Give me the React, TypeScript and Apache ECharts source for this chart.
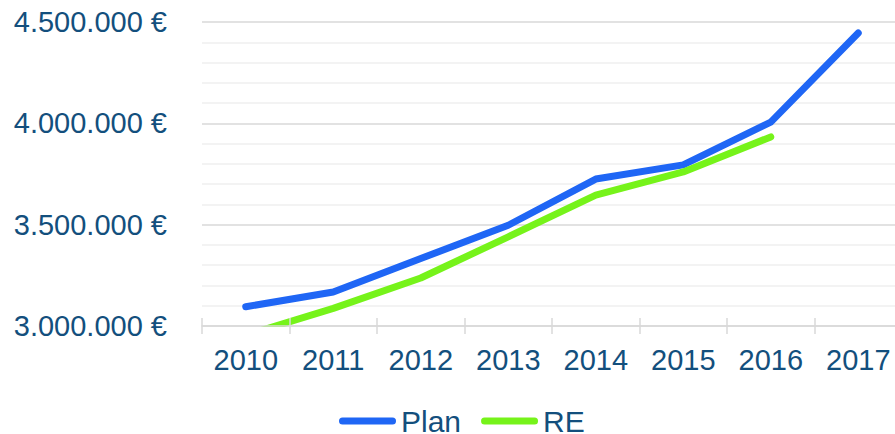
import React, { useEffect, useRef } from "react";
import * as echarts from "echarts";

const years = ["2010", "2011", "2012", "2013", "2014", "2015", "2016", "2017"];
const planValues = [3095000, 3168000, 3333000, 3497000, 3725000, 3795000, 4006000, 4446000];
const reValues = [2955000, 3087000, 3237000, 3440000, 3646000, 3760000, 3933000, null];
const yTicks = { min: 3000000, max: 4500000, interval: 500000 };

const TEXT = "#134f7d";
const FONT = "'Liberation Sans', Arial, sans-serif";
const BLUE = "#1f66f5";
const GREEN = "#76f31a";

const fmt = (v: number) =>
  String(Math.round(v)).replace(/\B(?=(\d{3})+(?!\d))/g, ".") + " €";

const capsule = "path://M3.5,0 H53.5 A3.5,3.5 0 0 1 53.5,7 H3.5 A3.5,3.5 0 0 1 3.5,0 Z";

export default function App() {
  const ref = useRef<HTMLDivElement>(null);
  useEffect(() => {
    if (!ref.current) return;
    const chart = echarts.init(ref.current, undefined, { renderer: "svg" });
    chart.setOption({
      animation: false,
      textStyle: { fontFamily: FONT },
      grid: { left: 202, top: 22, right: 1, bottom: 108, containLabel: false },
      graphic: [
        {
          type: "rect",
          z: 5,
          shape: { x: 202, y: 327, width: 701, height: 16 },
          style: { fill: "#ffffff" },
          silent: true,
        },
      ],
      legend: {
        left: 334,
        top: 401,
        itemWidth: 57,
        itemHeight: 7,
        itemGap: 20,
        textStyle: { color: TEXT, fontSize: 30, lineHeight: 30, fontFamily: FONT },
        data: [
          { name: "Plan", icon: capsule, itemStyle: { color: BLUE } },
          { name: "RE", icon: capsule, itemStyle: { color: GREEN } },
        ],
      },
      xAxis: [
        {
          type: "category",
          data: years,
          boundaryGap: true,
          z: 10,
          axisLine: { show: true, lineStyle: { color: "#d9d9d9", width: 1.5 } },
          axisTick: { show: true, length: 8, lineStyle: { color: "#d9d9d9", width: 1.5 } },
          axisLabel: { color: TEXT, fontSize: 29, fontFamily: FONT, margin: 19 },
          splitLine: { show: false },
        },
        {
          type: "category",
          data: years,
          boundaryGap: true,
          position: "bottom",
          z: 10,
          axisLine: { show: false },
          axisTick: { show: true, inside: true, length: 8, lineStyle: { color: "#d9d9d9", width: 1.5 } },
          axisLabel: { show: false },
          splitLine: { show: false },
        },
      ],
      yAxis: {
        type: "value",
        min: yTicks.min,
        max: yTicks.max,
        interval: yTicks.interval,
        axisLine: { show: false },
        axisTick: { show: false },
        axisLabel: { color: TEXT, fontSize: 29, fontFamily: FONT, margin: 35, formatter: fmt },
        splitLine: { show: true, lineStyle: { color: "#d9d9d9", width: 1.5 } },
        minorTick: { show: false, splitNumber: 5 },
        minorSplitLine: { show: true, lineStyle: { color: "#efefef", width: 1.5 } },
      },
      series: [
        {
          name: "Plan",
          type: "line",
          data: planValues,
          symbol: "none",
          lineStyle: { color: BLUE, width: 7, cap: "round", join: "round" },
          itemStyle: { color: BLUE },
          clip: true,
        },
        {
          name: "RE",
          type: "line",
          data: reValues,
          symbol: "none",
          lineStyle: { color: GREEN, width: 7, cap: "round", join: "round" },
          itemStyle: { color: GREEN },
          clip: true,
        },
      ],
    });
    return () => chart.dispose();
  }, []);
  return (
    <div
      style={{
        position: "fixed",
        left: 0,
        top: 0,
        width: 895,
        height: 434,
        overflow: "hidden",
        background: "#fff",
      }}
    >
      <div ref={ref} style={{ width: 903, height: 434 }} />
    </div>
  );
}
